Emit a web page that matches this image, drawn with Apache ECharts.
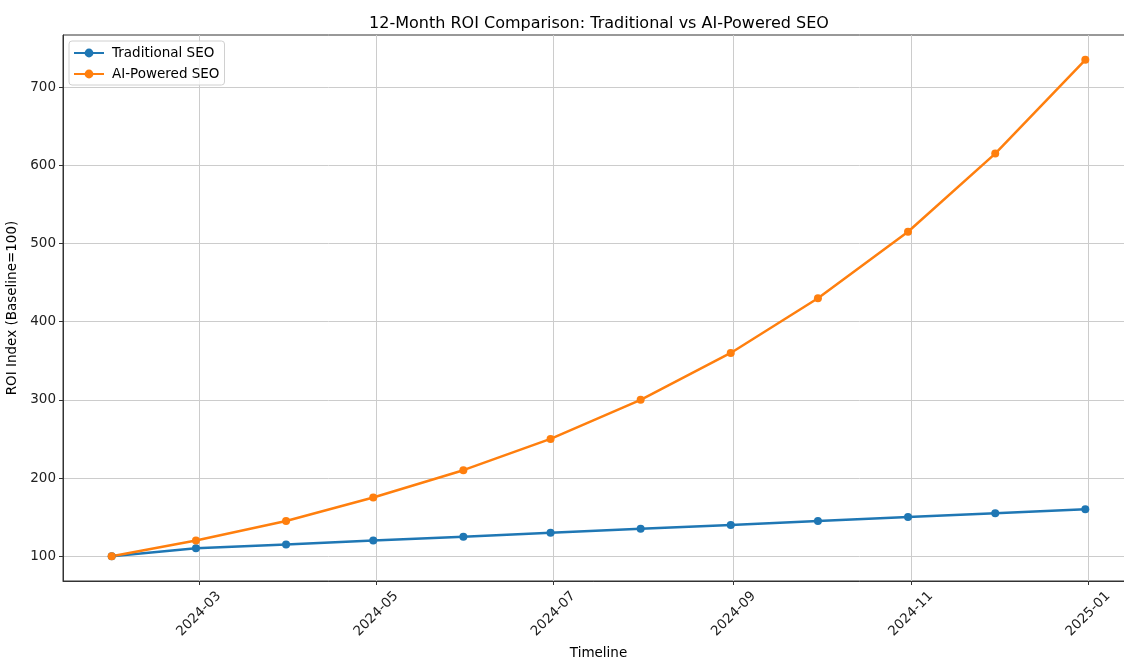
<!DOCTYPE html>
<html>
<head>
<meta charset="utf-8">
<script src="https://cdn.jsdelivr.net/npm/echarts@6/dist/echarts.min.js"></script>
<style>
  html, body { margin: 0; padding: 0; background: #fff; }
  #container { width: 1124px; height: 662px; }
</style>
</head>
<body>
<div id="container"></div>
<script>
// month-end dates of 2024
var dates = ['2024-01-31', '2024-02-29', '2024-03-31', '2024-04-30', '2024-05-31', '2024-06-30',
             '2024-07-31', '2024-08-31', '2024-09-30', '2024-10-31', '2024-11-30', '2024-12-31'];
var traditional = [100, 110, 115, 120, 125, 130, 135, 140, 145, 150, 155, 160];
var aiPowered = [100, 120, 145, 175, 210, 250, 300, 360, 430, 515, 615, 735];
var xTickLabels = ['2024-03', '2024-05', '2024-07', '2024-09', '2024-11', '2025-01'];
var yTicks = [100, 200, 300, 400, 500, 600, 700];

function toTs(s) {
    var p = s.split('-');
    return Date.UTC(+p[0], +p[1] - 1, p[2] ? +p[2] : 1);
}
var xs = dates.map(toTs);
var xTicks = xTickLabels.map(toTs);
var span = xs[xs.length - 1] - xs[0];
var xMin = xs[0] - span * 0.05, xMax = xs[xs.length - 1] + span * 0.05;
var allY = traditional.concat(aiPowered);
var yLo = Math.min.apply(null, allY), yHi = Math.max.apply(null, allY);
var yMin = yLo - (yHi - yLo) * 0.05, yMax = yHi + (yHi - yLo) * 0.05;

function pairs(vals) {
    return vals.map(function(v, i) { return [xs[i], v]; });
}
function fmtMonth(v) {
    var d = new Date(v);
    var m = d.getUTCMonth() + 1;
    return d.getUTCFullYear() + '-' + (m < 10 ? '0' + m : m);
}

var font = 'DejaVu Sans';
var myChart = echarts.init(document.getElementById('container'));
myChart.setOption({
    animation: false,
    textStyle: { fontFamily: font },
    title: {
        text: '12-Month ROI Comparison: Traditional vs AI-Powered SEO',
        left: 594, top: 11, textAlign: 'center',
        textStyle: { fontFamily: font, fontSize: 16, fontWeight: 'normal', color: '#000' }
    },
    legend: {
        left: 69, top: 41, orient: 'vertical',
        itemWidth: 30, itemHeight: 11, itemGap: 7,
        padding: [5, 5, 4, 4],
        borderColor: '#d0d0d0', borderWidth: 1, borderRadius: 3,
        backgroundColor: 'rgba(255,255,255,0.8)',
        textStyle: { fontFamily: font, fontSize: 13.5, color: '#000', padding: [0, 0, 0, 3] },
        data: ['Traditional SEO', 'AI-Powered SEO']
    },
    grid: {
        left: 63, top: 35, bottom: 81, right: -10,
        outerBoundsMode: 'none', containLabel: false,
        show: true, borderColor: '#333', borderWidth: 1, backgroundColor: 'transparent'
    },
    xAxis: {
        type: 'value', min: xMin, max: xMax,
        name: 'Timeline', nameLocation: 'middle', nameGap: 65,
        nameTextStyle: { fontFamily: font, fontSize: 13.5, color: '#000' },
        axisLine: { show: true, lineStyle: { color: '#333' } },
        axisTick: { show: true, customValues: xTicks, length: 4, lineStyle: { color: '#333' } },
        axisLabel: { customValues: xTicks, rotate: 45, align: 'center', verticalAlign: 'middle',
                     formatter: fmtMonth, fontFamily: font, fontSize: 13.5, color: '#222', margin: 33 },
        splitLine: { show: true, lineStyle: { color: '#cccccc', width: 1 } }
    },
    yAxis: {
        type: 'value', min: yMin, max: yMax,
        name: 'ROI Index (Baseline=100)', nameLocation: 'middle', nameGap: 43,
        nameTextStyle: { fontFamily: font, fontSize: 13.5, color: '#000' },
        axisLine: { show: true, lineStyle: { color: '#333' } },
        axisTick: { show: true, customValues: yTicks, length: 4, lineStyle: { color: '#333' } },
        axisLabel: { customValues: yTicks, fontFamily: font, fontSize: 13.5, color: '#222', margin: 7 },
        splitLine: { show: true, lineStyle: { color: '#cccccc', width: 1 } }
    },
    series: [
        {
            name: 'Traditional SEO', type: 'line', data: pairs(traditional),
            symbol: 'circle', symbolSize: 8, color: '#1f77b4',
            lineStyle: { width: 2.5, color: '#1f77b4' }, itemStyle: { color: '#1f77b4' }
        },
        {
            name: 'AI-Powered SEO', type: 'line', data: pairs(aiPowered),
            symbol: 'circle', symbolSize: 8, color: '#ff7f0e',
            lineStyle: { width: 2.5, color: '#ff7f0e' }, itemStyle: { color: '#ff7f0e' }
        }
    ]
});
</script>
</body>
</html>
